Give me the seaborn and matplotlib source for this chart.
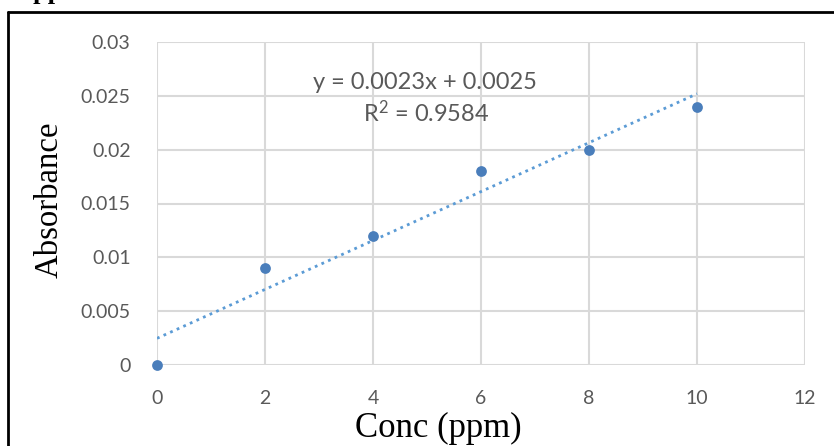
import numpy as np
import pandas as pd
import matplotlib
matplotlib.use("Agg")
import matplotlib.pyplot as plt
from matplotlib.lines import Line2D
import seaborn as sns

conc = [0, 2, 4, 6, 8, 10]
absorbance = [0.0, 0.009, 0.012, 0.018, 0.020, 0.024]
x_ticks = [0, 2, 4, 6, 8, 10, 12]
y_ticks = [0, 0.005, 0.01, 0.015, 0.02, 0.025, 0.03]
y_tick_labels = ["0", "0.005", "0.01", "0.015", "0.02", "0.025", "0.03"]
equation = "y = 0.0023x + 0.0025"
r2_text = "R$^{2}$ = 0.9584"

df = pd.DataFrame({"conc": conc, "absorbance": absorbance})

sns.set_style("white")
plt.rcParams["font.family"] = ["Lato", "DejaVu Sans"]
plt.rcParams["mathtext.fontset"] = "custom"
plt.rcParams["mathtext.rm"] = "Lato"
plt.rcParams["mathtext.it"] = "Lato"
plt.rcParams["mathtext.default"] = "regular"

fig = plt.figure(figsize=(8.34, 4.46), dpi=100)
ax = fig.add_axes([157/834, 1-365/446, (805-157)/834, (365-42)/446])

point_color = "#4a7ebb"
line_color = "#5b9bd5"

sns.regplot(data=df, x="conc", y="absorbance", ax=ax, ci=None, scatter=False,
            truncate=True,
            line_kws=dict(color=line_color, linestyle=(0, (1, 1.6)), linewidth=2.0))
sns.scatterplot(data=df, x="conc", y="absorbance", ax=ax, color=point_color,
                s=60, edgecolor=point_color, linewidth=0, zorder=5, clip_on=False)

ax.set_xlim(0, 12)
ax.set_ylim(0, 0.03)
ax.set_xticks(x_ticks)
ax.set_yticks(y_ticks)
ax.set_yticklabels(y_tick_labels)
ax.grid(True, color="#d9d9d9", linewidth=1.5)
ax.set_axisbelow(True)
for s in ax.spines.values():
    s.set_visible(False)
ax.tick_params(axis="both", length=0, labelsize=14, labelcolor="#595959")
ax.tick_params(axis="x", pad=18)
ax.tick_params(axis="y", pad=19)

ax.set_xlabel("Conc (ppm)", fontfamily=["Liberation Serif"], fontsize=25, color="black")
ax.set_ylabel("Absorbance", fontfamily=["Liberation Serif"], fontsize=23.6, color="black")
ax.xaxis.set_label_coords(0.434, -0.146)
ax.yaxis.set_label_coords(-0.143, 0.511)

ax.text(4.97, 0.02628, equation, ha="center", va="center", fontsize=17, color="#595959")
ax.text(4.98, 0.0234, r2_text, ha="center", va="center", fontsize=17, color="#595959")

# outer frame (left and top edges visible)
fig.add_artist(Line2D([8/834, 8/834], [0, 1-12/446], transform=fig.transFigure, color="black", linewidth=2))
fig.add_artist(Line2D([8/834, 1], [1-12/446, 1-12/446], transform=fig.transFigure, color="black", linewidth=2))

fig.text(15/834, 1 + 1/446, "Appendix", fontfamily=["Liberation Serif"], fontweight="bold",
         fontsize=19, va="baseline", ha="left", color="black")

fig.savefig("out.png", dpi=100)
